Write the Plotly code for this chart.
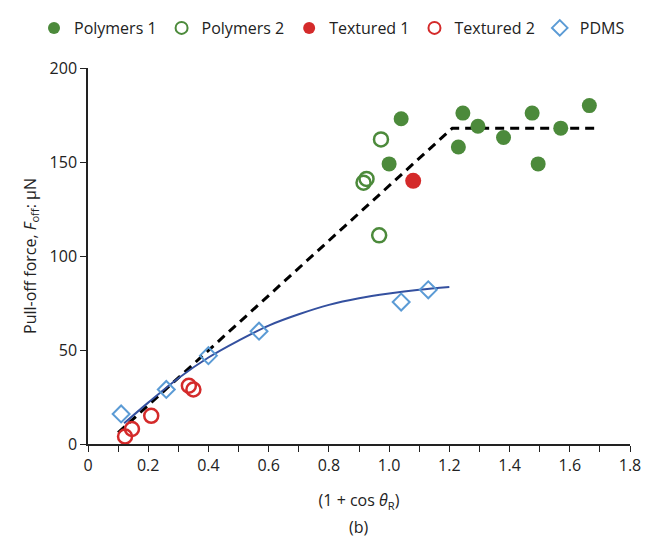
import plotly.graph_objects as go

# ---- data ----
poly1_x = [1.04, 1.00, 1.23, 1.245, 1.295, 1.38, 1.475, 1.495, 1.57, 1.665]
poly1_y = [173, 149, 158, 176, 169, 163, 176, 149, 168, 180]

poly2_x = [0.973, 0.915, 0.925, 0.967]
poly2_y = [162, 139, 141, 111]

tex1_x = [1.08]
tex1_y = [140]

tex2_x = [0.123, 0.146, 0.21, 0.335, 0.35]
tex2_y = [4, 8, 15, 31, 29]

pdms_x = [0.11, 0.26, 0.40, 0.568, 1.04, 1.13]
pdms_y = [16, 29, 47, 60, 75.5, 82]

# dashed guide (rising part + plateau)
guide_x = [0.10, 1.21, 1.69]
guide_y = [6, 168, 168]

# PDMS fitted curve
fit_x = [0.12, 0.2, 0.3, 0.4, 0.5, 0.6, 0.7, 0.8, 0.9, 1.0, 1.1, 1.2]
fit_y = [11, 22, 35, 46, 55, 63, 69, 74, 77.5, 80, 82, 83.5]

x_tickvals = [0, 0.2, 0.4, 0.6, 0.8, 1.0, 1.2, 1.4, 1.6, 1.8]
x_ticktext = ["0", "0.2", "0.4", "0.6", "0.8", "1.0", "1.2", "1.4", "1.6", "1.8"]
y_tickvals = [0, 50, 100, 150, 200]

GREEN = "#4c8a3b"
RED = "#d42a2a"
LBLUE = "#5b9bd5"
DBLUE = "#34509f"
FONT = "Open Sans"
TXT = "#222"

fig = go.Figure()

fig.add_trace(go.Scatter(x=guide_x, y=guide_y, mode="lines", showlegend=False,
                         line=dict(color="black", width=3, dash="9px,6px"), hoverinfo="skip"))
fig.add_trace(go.Scatter(x=fit_x, y=fit_y, mode="lines", showlegend=False,
                         line=dict(color=DBLUE, width=2, shape="spline"), hoverinfo="skip"))

fig.add_trace(go.Scatter(x=poly1_x, y=poly1_y, mode="markers", name="Polymers 1",
                         marker=dict(symbol="circle", size=15, color=GREEN)))
fig.add_trace(go.Scatter(x=poly2_x, y=poly2_y, mode="markers", name="Polymers 2",
                         marker=dict(symbol="circle-open", size=14, color=GREEN,
                                     line=dict(width=2.5, color=GREEN))))
fig.add_trace(go.Scatter(x=tex1_x, y=tex1_y, mode="markers", name="Textured 1",
                         marker=dict(symbol="circle", size=16, color=RED)))
fig.add_trace(go.Scatter(x=tex2_x, y=tex2_y, mode="markers", name="Textured 2",
                         marker=dict(symbol="circle-open", size=14, color=RED,
                                     line=dict(width=2.5, color=RED))))
fig.add_trace(go.Scatter(x=pdms_x, y=pdms_y, mode="markers", name="PDMS",
                         marker=dict(symbol="diamond-open", size=13, color=LBLUE,
                                     line=dict(width=2, color=LBLUE))))

fig.update_layout(
    width=646, height=540,
    margin=dict(l=88, r=16, t=68, b=96, autoexpand=False),
    paper_bgcolor="white", plot_bgcolor="white",
    font=dict(family=FONT, size=16, color=TXT),
    legend=dict(orientation="h", xref="paper", yref="paper",
                x=(34 - 88) / 542, y=(444 - 28) / 376, xanchor="left", yanchor="middle",
                font=dict(size=16, color=TXT), itemwidth=30, itemsizing="constant",
                bgcolor="rgba(0,0,0,0)"),
    xaxis=dict(range=[0, 1.8], tickvals=x_tickvals, ticktext=x_ticktext,
               showgrid=False, zeroline=False, showline=True, linecolor=TXT,
               linewidth=1.5, ticks="outside", ticklen=6, tickcolor=TXT, automargin=False,
               minor=dict(dtick=0.1, tick0=0, ticks="outside", ticklen=6, tickcolor=TXT),
               title=dict(text="(1 + cos <i>θ</i><sub>R</sub>)", standoff=20,
                          font=dict(size=16))),
    yaxis=dict(range=[0, 200], tickvals=y_tickvals, showgrid=False, zeroline=False,
               showline=True, linecolor=TXT, linewidth=1.5, ticks="outside",
               ticklen=6, tickcolor=TXT, automargin=False,
               title=dict(text="Pull-off force, <i>F</i><sub>off</sub>: μN", standoff=9,
                          font=dict(size=16))),
    annotations=[dict(text="(b)", xref="paper", yref="paper", x=0.5, y=-(527 - 444) / 376,
                      showarrow=False, xanchor="center", yanchor="middle",
                      font=dict(size=16, color=TXT))],
)

fig.write_html("out.html", config={"displayModeBar": False},
               post_script="document.body.style.margin='0';")
